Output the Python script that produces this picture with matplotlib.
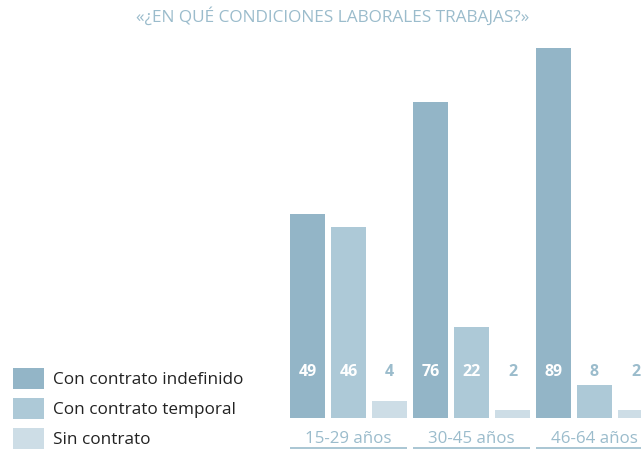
import numpy as np
import matplotlib.pyplot as plt

# === Datos ===
grupos = ["15-29 años", "30-45 años", "46-64 años"]
series = ["Con contrato indefinido", "Con contrato temporal", "Sin contrato"]
indefinido = [49, 76, 89]
temporal = [46, 22, 8]
sin_contrato = [4, 2, 2]
titulo = "«¿EN QUÉ CONDICIONES LABORALES TRABAJAS?»"

colores = ["#93b5c7", "#adc9d7", "#cddde6"]
c_texto = "#9bbccc"
plt.rcParams['font.family'] = ['Open Sans', 'DejaVu Sans']

W, H = 641, 450
fig = plt.figure(figsize=(W / 100, H / 100), dpi=100)
ax = fig.add_axes([0, 0, 1, 1])
# escala: 0 -> pixel 418 desde arriba, 89 -> pixel 48
base_px, escala = 418, 370 / 89
ax.set_xlim(0, W)
ax.set_ylim(-(H - base_px) / escala, base_px / escala)
ax.axis('off')

def py(p):
    # pixel (desde arriba) -> coordenada y de datos
    return (base_px - p) / escala

x0, paso, ancho = 290, 41, 35
valores = [indefinido, temporal, sin_contrato]
for j, vals in enumerate(valores):
    xs = [x0 + (3 * i + j) * paso for i in range(len(grupos))]
    ax.bar(xs, vals, width=ancho, align='edge', color=colores[j], linewidth=0)
    for x, v in zip(xs, vals):
        col = 'white' if v > 12 else c_texto
        ax.text(x + ancho / 2, py(372), str(v), ha='center', va='center',
                fontsize=11.5, fontweight='bold', color=col)

for i, g in enumerate(grupos):
    xa = x0 + 3 * i * paso
    xb = xa + 2 * paso + ancho
    ax.plot([xa, xb], [py(448), py(448)], color=c_texto, lw=1.2, solid_capstyle='butt')
    ax.text((xa + xb) / 2, py(439), g, ha='center', va='center', fontsize=12.2, color=c_texto)

# leyenda
for j, s in enumerate(series):
    yc = 378 + 30 * j
    ax.add_patch(plt.Rectangle((13, py(yc + 10.5)), 31, 21 / escala, color=colores[j], lw=0))
    ax.text(53, py(yc + 1.5), s, ha='left', va='center', fontsize=12.3, color='#222222')

ax.text(333, py(16), titulo, ha='center', va='center', fontsize=12.4, color=c_texto)

fig.savefig("out.png", dpi=100)
